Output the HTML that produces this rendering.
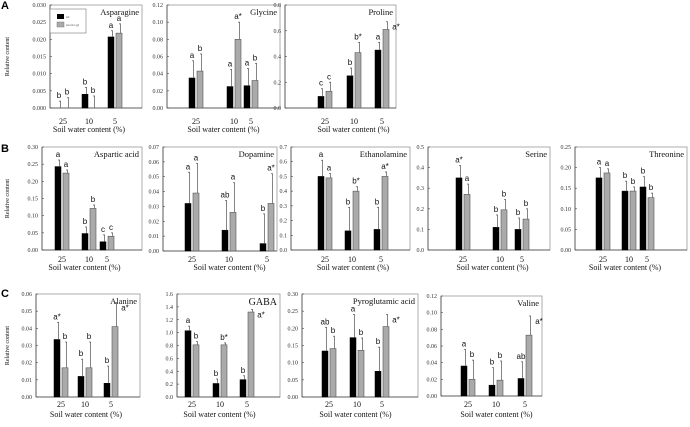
<!DOCTYPE html>
<html><head><meta charset="utf-8"><style>
html,body{margin:0;padding:0;background:#fff;width:690px;height:427px;overflow:hidden}
svg{display:block}
text{font-family:"Liberation Serif",serif}
</style></head><body>
<svg id="fig" width="690" height="427" viewBox="0 0 690 427" xmlns="http://www.w3.org/2000/svg"></svg>
<script>
const categories = ['25','10','5'];
// Asparagine
const aspnWt=[0,0.004,0.0207], aspnSw=[0,0,0.0218], aspnWtErr=[0.002,0.006,0.0225], aspnSwErr=[0.003,0.0035,0.0245];
const aspnWtL=['b','b','a'], aspnSwL=['b','b','a'];
// Glycine
const glyWt=[0.035,0.025,0.026], glySw=[0.043,0.080,0.032], glyWtErr=[0.055,0.045,0.046], glySwErr=[0.063,0.100,0.052];
const glyWtL=['a','a','a'], glySwL=['b','a*','b'];
// Proline
const proWt=[0.09,0.25,0.45], proSw=[0.13,0.43,0.61], proWtErr=[0.15,0.31,0.51], proSwErr=[0.20,0.51,0.67];
const proWtL=['c','b','a'], proSwL=['c','b*','a*'];
// Aspartic acid
const aspWt=[0.243,0.048,0.024], aspSw=[0.224,0.121,0.040], aspWtErr=[0.262,0.067,0.044], aspSwErr=[0.233,0.131,0.050];
const aspWtL=['a','b','c'], aspSwL=['a','b','c'];
// Dopamine
const dopWt=[0.032,0.014,0.005], dopSw=[0.039,0.026,0.032], dopWtErr=[0.053,0.034,0.025], dopSwErr=[0.059,0.046,0.052];
const dopWtL=['a','ab','b'], dopSwL=['a','a','a*'];
// Ethanolamine
const ethWt=[0.50,0.13,0.14], ethSw=[0.49,0.40,0.50], ethWtErr=[0.61,0.29,0.29], ethSwErr=[0.52,0.43,0.53];
const ethWtL=['a','b','b'], ethSwL=['a','b*','a*'];
// Serine
const serWt=[0.35,0.11,0.10], serSw=[0.27,0.195,0.15], serWtErr=[0.41,0.17,0.155], serSwErr=[0.32,0.245,0.20];
const serWtL=['a*','b','b'], serSwL=['a','b','b'];
// Threonine
const thrWt=[0.175,0.143,0.153], thrSw=[0.187,0.143,0.127], thrWtErr=[0.20,0.167,0.178], thrSwErr=[0.197,0.153,0.138];
const thrWtL=['a','b','b'], thrSwL=['a','b','b'];
// Alanine
const alaWt=[0.0335,0.012,0.008], alaSw=[0.017,0.017,0.041], alaWtErr=[0.0435,0.022,0.018], alaSwErr=[0.032,0.032,0.055];
const alaWtL=['a*','b','b'], alaSwL=['b','b','a*'];
// GABA
const gabWt=[1.03,0.21,0.27], gabSw=[0.81,0.81,1.32], gabWtErr=[1.10,0.28,0.33], gabSwErr=[0.86,0.84,1.36];
const gabWtL=['a','b','b'], gabSwL=['b','b*','a*'];
// Pyroglutamic acid
const pyrWt=[0.134,0.173,0.075], pyrSw=[0.141,0.136,0.205], pyrWtErr=[0.203,0.24,0.145], pyrSwErr=[0.177,0.172,0.24];
const pyrWtL=['ab','a','b'], pyrSwL=['b','b','a*'];
// Valine
const valWt=[0.036,0.013,0.021], valSw=[0.020,0.019,0.073], valWtErr=[0.056,0.034,0.041], valSwErr=[0.043,0.042,0.096];
const valWtL=['a','b','ab'], valSwL=['b','b','a*'];

const NS='http://www.w3.org/2000/svg';
const svg=document.getElementById('fig');
function mk(tag,attrs,parent){const e=document.createElementNS(NS,tag);for(const k in attrs)e.setAttribute(k,attrs[k]);(parent||svg).appendChild(e);return e;}
function txt(s,attrs,parent){const e=mk('text',attrs,parent);e.textContent=s;return e;}

const panels=[
 {id:'asparagine',title:'Asparagine',x0:50,x1:142,y0:5,y1:108,max:0.030,step:0.005,dec:3,gx:[56,82,108],wt:aspnWt,sw:aspnSw,we:aspnWtErr,se:aspnSwErr,wl:aspnWtL,sl:aspnSwL,ylab:true,xnum:124,xt:132},
 {id:'glycine',title:'Glycine',x0:167,x1:280,y0:5,y1:108,max:0.12,step:0.02,dec:2,gx:[189,227,244],wt:glyWt,sw:glySw,we:glyWtErr,se:glySwErr,wl:glyWtL,sl:glySwL,xnum:124,xt:132},
 {id:'proline',title:'Proline',x0:285,x1:396,y0:5,y1:108,max:0.8,step:0.2,dec:1,gx:[318,347,375],wt:proWt,sw:proSw,we:proWtErr,se:proSwErr,wl:proWtL,sl:proSwL,xnum:124,xt:132,side:true},
 {id:'aspartic-acid',title:'Aspartic acid',x0:42,x1:142,y0:147,y1:250,max:0.30,step:0.05,dec:2,gx:[55,82,100],wt:aspWt,sw:aspSw,we:aspWtErr,se:aspSwErr,wl:aspWtL,sl:aspSwL,ylab:true,xnum:262,xt:270},
 {id:'dopamine',title:'Dopamine',x0:163,x1:277,y0:147,y1:251,max:0.07,step:0.01,dec:2,gx:[185,222,260],wt:dopWt,sw:dopSw,we:dopWtErr,se:dopSwErr,wl:dopWtL,sl:dopSwL,xnum:262,xt:270},
 {id:'ethanolamine',title:'Ethanolamine',x0:291,x1:410,y0:147,y1:250,max:0.7,step:0.1,dec:1,gx:[318,345,374],wt:ethWt,sw:ethSw,we:ethWtErr,se:ethSwErr,wl:ethWtL,sl:ethSwL,xnum:262,xt:270},
 {id:'serine',title:'Serine',x0:428,x1:550,y0:147,y1:250,max:0.5,step:0.1,dec:1,gx:[456,493,515],wt:serWt,sw:serSw,we:serWtErr,se:serSwErr,wl:serWtL,sl:serSwL,xnum:262,xt:270},
 {id:'threonine',title:'Threonine',x0:575,x1:687,y0:147,y1:250,max:0.25,step:0.05,dec:2,gx:[596,622,640],wt:thrWt,sw:thrSw,we:thrWtErr,se:thrSwErr,wl:thrWtL,sl:thrSwL,xnum:262,xt:270},
 {id:'alanine',title:'Alanine',x0:36,x1:140,y0:294,y1:397,max:0.06,step:0.01,dec:2,gx:[54,78,104],wt:alaWt,sw:alaSw,we:alaWtErr,se:alaSwErr,wl:alaWtL,sl:alaSwL,ylab:true,xnum:407,xt:417,side:true},
 {id:'gaba',title:'GABA',x0:177,x1:280,y0:294,y1:397,max:1.6,step:0.2,dec:1,gx:[185,213,240],wt:gabWt,sw:gabSw,we:gabWtErr,se:gabSwErr,wl:gabWtL,sl:gabSwL,xnum:407,xt:417,big:true,side:true},
 {id:'pyroglutamic-acid',title:'Pyroglutamic acid',x0:302,x1:418,y0:294,y1:397,max:0.30,step:0.05,dec:2,gx:[322,350,375],wt:pyrWt,sw:pyrSw,we:pyrWtErr,se:pyrSwErr,wl:pyrWtL,sl:pyrSwL,xnum:407,xt:417,side:true},
 {id:'valine',title:'Valine',x0:441,x1:542,y0:296,y1:396,max:0.12,step:0.02,dec:2,gx:[461,489,518],wt:valWt,sw:valSw,we:valWtErr,se:valSwErr,wl:valWtL,sl:valSwL,xnum:407,xt:417,side:true}
];

panels.forEach(p=>{
  const g=mk('g',{});
  
  
  const y=v=>p.y1-(v/p.max)*(p.y1-p.y0);
  const frame=mk('rect',{x:p.x0,y:p.y0,width:p.x1-p.x0,height:p.y1-p.y0,fill:'none',stroke:'#999','stroke-width':0.8},g);
  
  
  mk('line',{x1:p.x0,y1:p.y0,x2:p.x0,y2:p.y1,stroke:'#444','stroke-width':0.8},g);
  mk('line',{x1:p.x0,y1:p.y1,x2:p.x1,y2:p.y1,stroke:'#444','stroke-width':0.8},g);
  const n=Math.round(p.max/p.step);
  for(let i=0;i<=n;i++){
    const v=i*p.step, yy=y(v);
    mk('line',{x1:p.x0,y1:yy,x2:p.x0+2,y2:yy,stroke:'#444','stroke-width':0.6},g);
    const t=txt(v.toFixed(p.dec),{x:p.x0-4,y:yy+2,'font-size':6,'text-anchor':'end',fill:'#333'},g);
    
    
  }
  const tt=txt(p.title,{x:p.x1-3,y:p.y0+(p.big?11:10),'font-size':p.big?10:8.5,'text-anchor':'end',fill:'#111'},g);
  
  
  categories.forEach((c,i)=>{
    const bx=p.gx[i];
    const bw=6, sx=bx+8;
    const b1=mk('rect',{x:bx,y:y(p.wt[i]),width:bw,height:Math.max(0,p.y1-y(p.wt[i])),fill:'#000',stroke:'#000','stroke-width':0.5},g);
    
    
    const b2=mk('rect',{x:sx,y:y(p.sw[i]),width:bw,height:Math.max(0,p.y1-y(p.sw[i])),fill:'#aaa',stroke:'#555','stroke-width':0.6},g);
    
    
    [[bx,p.wt[i],p.we[i],p.wl[i],false],[sx,p.sw[i],p.se[i],p.sl[i],p.side&&i===2]].forEach(([x,v,e,l,side])=>{
      const ex=x+bw-1.5;
      const eb=mk('line',{x1:ex,y1:y(v),x2:ex,y2:y(e),stroke:'#666','stroke-width':0.8},g);
      
      
      mk('line',{x1:ex-1.5,y1:y(e),x2:ex+0.5,y2:y(e),stroke:'#666','stroke-width':0.8},g);
      const lx=side? x+bw+7 : x+bw/2;
      const ly=side? y(e)+8 : y(e)-3;
      const lt=txt(l,{x:lx,y:ly,'font-size':8,'text-anchor':'middle',fill:'#111',style:'font-family:"Liberation Sans",sans-serif'},g);
      
      
    });
    const xl=txt(c,{x:bx+7,y:p.xnum,'font-size':8,'text-anchor':'middle',fill:'#111'},g);
    
    
  });
  const cx=(p.gx[0]+p.gx[2]+14)/2;
  const xt=txt('Soil water content (%)',{x:cx,y:p.xt,'font-size':8,'text-anchor':'middle',fill:'#111'},g);
  
  
  if(p.ylab){
    const ym=(p.y0+p.y1)/2;
    const yt=txt('Relative content',{x:9,y:ym,'font-size':6,'text-anchor':'middle',fill:'#111',transform:'rotate(-90 9 '+ym+')'},g);
    
    
  }
});

// legend
const lg=mk('g',{});


mk('rect',{x:50,y:9,width:36,height:24,fill:'#fff',stroke:'#777','stroke-width':0.6},lg);
mk('rect',{x:57,y:14,width:7,height:5,fill:'#000'},lg);
mk('rect',{x:57,y:22,width:7,height:5,fill:'#aaa',stroke:'#666','stroke-width':0.4},lg);
const l1=txt('wt',{x:66,y:18,'font-size':3.5,fill:'#333'},lg);


const l2=txt('sw/crc-gt',{x:66,y:26,'font-size':3.5,fill:'#333'},lg);



// section labels
[['A',9],['B',152],['C',297]].forEach(([s,yy])=>{
  const t=txt(s,{x:1,y:yy,'font-size':11,'font-weight':'bold',fill:'#000',style:'font-family:"Liberation Sans",sans-serif'});
  
  
});
</script>
</body></html>
